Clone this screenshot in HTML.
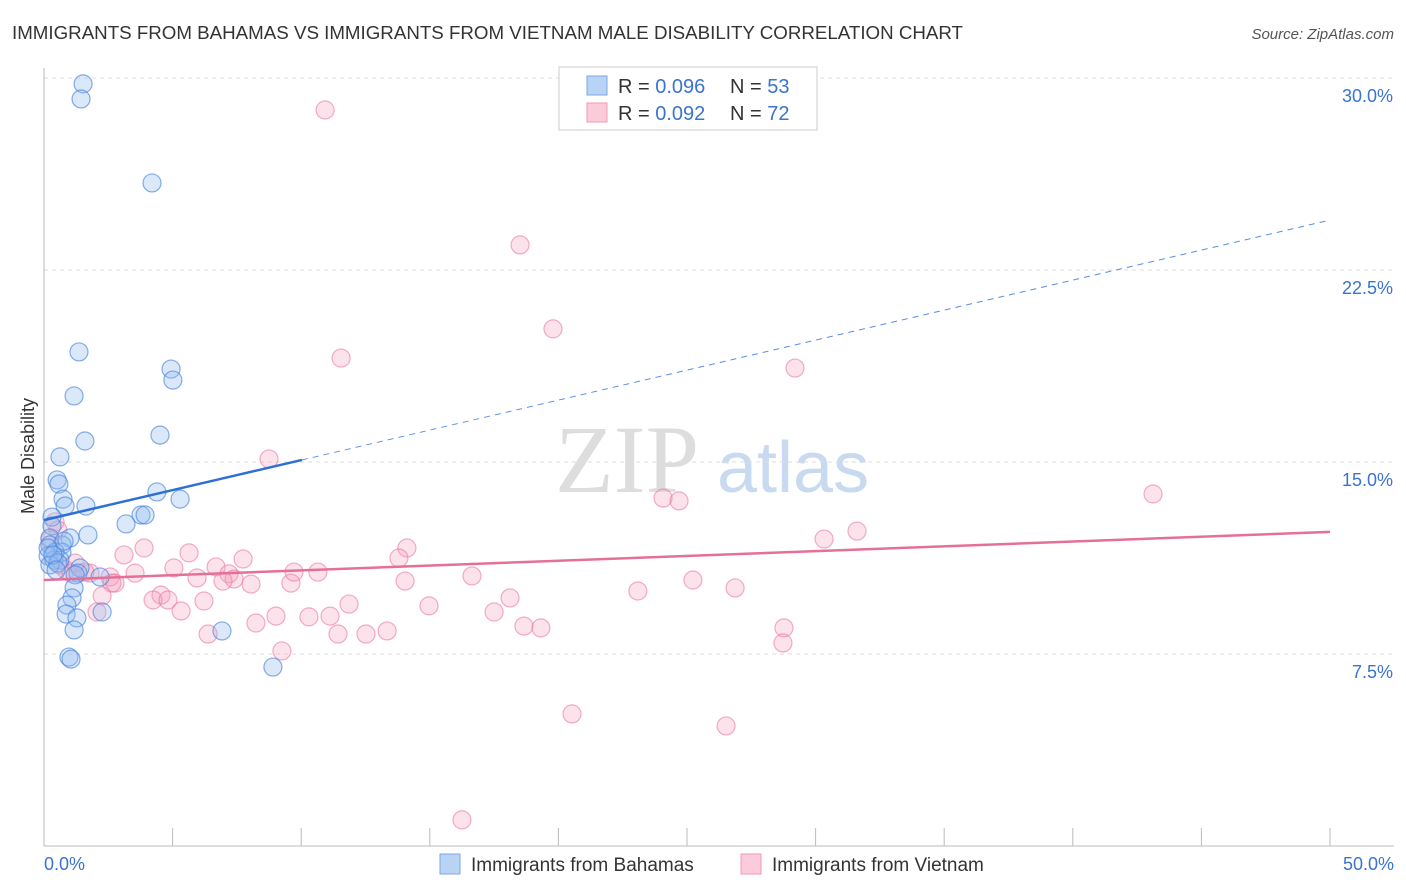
<!DOCTYPE html>
<html><head><meta charset="utf-8"><style>
body{margin:0;background:#fff;font-family:"Liberation Sans",sans-serif}
svg{display:block}
</style></head><body>
<svg id="chart" width="1406" height="892" xmlns="http://www.w3.org/2000/svg">
<text x="12" y="39" font-size="18" fill="#333" textLength="951" lengthAdjust="spacingAndGlyphs">IMMIGRANTS FROM BAHAMAS VS IMMIGRANTS FROM VIETNAM MALE DISABILITY CORRELATION CHART</text>
<text x="1394" y="39" font-size="15" fill="#555" text-anchor="end" font-style="italic">Source: ZipAtlas.com</text>
<text transform="translate(34,456) rotate(-90)" font-size="18" fill="#333" text-anchor="middle">Male Disability</text>
<g><text x="555" y="492" font-size="96" fill="#ddd" font-family="Liberation Serif,serif">ZIP</text><text x="717" y="492" font-size="72" fill="#c9daf0">atlas</text></g>
<g id="grid"></g><g id="pts"></g><g id="lines"></g>
<g>
<rect x="559" y="67" width="258" height="63" fill="#fff" stroke="#ccc"/>
<rect x="587" y="76" width="20" height="19" fill="#b9d3f5" stroke="#7aa7e6"/>
<rect x="587" y="103" width="20" height="19" fill="#fbcbd9" stroke="#f09ab5"/>
<text x="618" y="93" font-size="20" fill="#333">R = <tspan fill="#3a73d0">0.096</tspan></text>
<text x="730" y="93" font-size="20" fill="#333">N = <tspan fill="#3a73d0">53</tspan></text>
<text x="618" y="120" font-size="20" fill="#333">R = <tspan fill="#3a73d0">0.092</tspan></text>
<text x="730" y="120" font-size="20" fill="#333">N = <tspan fill="#3a73d0">72</tspan></text>
</g>
<g>
<rect x="440" y="854" width="20" height="20" fill="#b9d3f5" stroke="#7aa7e6"/>
<text x="471" y="871" font-size="19" fill="#333">Immigrants from Bahamas</text>
<rect x="741" y="854" width="20" height="20" fill="#fbcbd9" stroke="#f09ab5"/>
<text x="772" y="871" font-size="19" fill="#333">Immigrants from Vietnam</text>
</g>
</svg>
<script>
const yTicks=[7.5,15,22.5,30];
const yTickLabels=["7.5%","15.0%","22.5%","30.0%"];
const xTickLabels=["0.0%","50.0%"];
const bahamasX=[1.52,1.44,4.20,1.36,1.17,4.94,5.01,1.59,4.51,0.62,0.51,0.58,4.39,5.29,0.74,1.63,0.82,3.77,3.93,3.19,0.31,0.31,1.71,1.01,0.23,0.70,0.23,0.70,0.43,0.16,0.39,0.62,1.40,1.32,1.21,2.18,1.17,1.09,0.89,0.86,1.28,2.26,1.17,6.92,0.97,1.05,8.90,0.23,0.54,0.16,0.35,0.78,0.47];
const bahamasY=[29.77,29.18,25.90,19.30,17.58,18.63,18.20,15.82,16.05,15.20,14.30,14.14,13.83,13.55,13.55,13.28,13.28,12.93,12.93,12.58,12.85,12.50,12.15,12.03,12.03,11.76,11.76,11.48,11.48,11.33,11.17,11.17,10.86,10.66,10.59,10.51,10.08,9.69,9.41,9.06,8.91,9.14,8.44,8.40,7.38,7.30,6.99,10.98,11.05,11.64,11.37,11.91,10.78];
const vietnamX=[10.93,18.51,19.79,11.55,29.20,8.75,43.12,24.07,24.69,31.61,30.33,0.43,0.54,14.11,3.89,5.64,3.11,7.74,13.80,0.62,0.86,1.05,1.79,2.57,3.54,5.05,6.69,7.19,7.39,5.95,6.96,8.05,9.60,9.72,10.65,14.04,16.64,25.23,26.87,23.09,18.12,2.76,2.26,4.55,4.24,4.82,6.22,5.33,2.06,9.02,11.12,10.30,11.86,14.97,17.50,18.66,19.32,8.24,6.38,11.43,12.52,13.34,28.77,28.73,9.25,20.53,26.52,16.25,1.21,1.59,2.64,0.23];
const vietnamY=[28.75,23.48,20.20,19.06,18.67,15.12,13.75,13.59,13.48,12.30,11.99,12.66,12.34,11.64,11.64,11.45,11.37,11.21,11.25,10.98,10.78,10.66,10.66,10.51,10.66,10.86,10.90,10.63,10.43,10.47,10.35,10.23,10.27,10.70,10.70,10.35,10.55,10.39,10.08,9.96,9.69,10.27,9.77,9.80,9.61,9.61,9.57,9.18,9.14,8.98,8.98,8.95,9.45,9.38,9.14,8.59,8.52,8.71,8.28,8.28,8.28,8.40,8.52,7.93,7.62,5.16,4.69,1.02,11.05,10.70,10.27,11.95];
const bahamasTrend=[12.73,24.45]; const bahamasSolidEnd=10.03;
const vietnamTrend=[10.39,12.27];
const NS="http://www.w3.org/2000/svg";
const xs=v=>44+v/50*1286, ys=v=>846-v/7.5*192;
function mk(tag,attrs,parent){const e=document.createElementNS(NS,tag);for(const k in attrs)e.setAttribute(k,attrs[k]);parent.appendChild(e);return e;}
const g=document.getElementById('grid');
yTicks.forEach((t,i)=>{
 const l=mk('line',{x1:44,x2:1394,y1:ys(t),y2:ys(t),stroke:'#ddd','stroke-dasharray':'4,4'},g);
 
 
 const tx=mk('text',{x:1393,y:ys(t)+24,'font-size':18,fill:'#3a73d0','text-anchor':'end'},g);
 tx.textContent=yTickLabels[i];
 
 
});
const ax=mk('line',{x1:44,x2:44,y1:68,y2:846,stroke:'#bbb'},g);


const bx=mk('line',{x1:44,x2:1394,y1:846,y2:846,stroke:'#bbb'},g);


for(let i=0;i<=10;i++){const t=mk('line',{x1:xs(i*5),x2:xs(i*5),y1:828,y2:846,stroke:'#bbb'},g);
 
 }
[[0,'start',44],[50,'end',1394]].forEach((d,i)=>{const t=mk('text',{x:d[2],y:870,'font-size':18,fill:'#3a73d0','text-anchor':d[1]},g);t.textContent=xTickLabels[i];
 
 });
const p=document.getElementById('pts');
vietnamX.forEach((x,i)=>{const c=mk('circle',{cx:xs(x),cy:ys(vietnamY[i]),r:9,fill:'rgba(246,160,190,0.3)',stroke:'rgba(235,120,160,0.6)','stroke-width':1.2},p);
 
 });
bahamasX.forEach((x,i)=>{const c=mk('circle',{cx:xs(x),cy:ys(bahamasY[i]),r:9,fill:'rgba(150,190,240,0.35)',stroke:'rgba(70,130,220,0.65)','stroke-width':1.2},p);
 
 });
const L=document.getElementById('lines');
const by=x=>bahamasTrend[0]+(bahamasTrend[1]-bahamasTrend[0])*x/50;
let l1=mk('line',{x1:xs(0),y1:ys(by(0)),x2:xs(bahamasSolidEnd),y2:ys(by(bahamasSolidEnd)),stroke:'#2e6fd6','stroke-width':2.5},L);


let l2=mk('line',{x1:xs(bahamasSolidEnd),y1:ys(by(bahamasSolidEnd)),x2:xs(50),y2:ys(by(50)),stroke:'#5a8fe0','stroke-width':1,'stroke-dasharray':'6,5'},L);


let l3=mk('line',{x1:xs(0),y1:ys(vietnamTrend[0]),x2:xs(50),y2:ys(vietnamTrend[1]),stroke:'#e4709a','stroke-width':2.5},L);


</script>
</body></html>
